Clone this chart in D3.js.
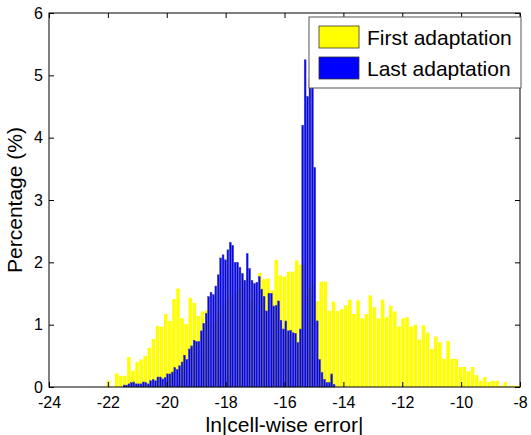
<!DOCTYPE html>
<html>
<head>
<meta charset="utf-8">
<script src="https://cdn.jsdelivr.net/npm/d3@7"></script>
<style>
  body { margin: 0; background: #fff; }
  svg { font-family: "Liberation Sans", Arial, Helvetica, sans-serif; }
</style>
</head>
<body>
<svg id="chart" width="531" height="435"></svg>
<script>
// histogram data (percent per bin)
var xTicks = [-24, -22, -20, -18, -16, -14, -12, -10, -8];
var yTicks = [0, 1, 2, 3, 4, 5, 6];

// first adaptation: bins start at -22.05, width 0.139
var firstStart = -22.05, firstBin = 0.139;
var firstVals = [
  0.10, 0, 0.22, 0.18, 0.18, 0.48, 0.26, 0.40, 0.44, 0.50,
  0.63, 0.77, 0.98, 0.97, 1.17, 1.06, 1.41, 1.58, 1.10, 1.01,
  1.43, 1.35, 1.14, 1.21, 1.23, 1.04, 1.06, 1.20, 1.33, 1.37,
  1.48, 1.52, 1.60, 1.72, 1.73, 1.40, 1.53, 1.83, 1.73, 1.74,
  1.55, 2.04, 1.79, 1.77, 1.85, 1.85, 2.03, 1.96, 1.98, 1.57,
  1.66, 1.38, 1.69, 1.69, 1.22, 1.37, 1.22, 1.25, 1.31, 1.40,
  1.17, 1.39, 1.10, 1.17, 1.47, 1.28, 1.10, 1.40, 1.12, 1.30,
  1.21, 0.97, 1.10, 1.12, 0.97, 1.00, 0.76, 0.99, 0.87, 0.61,
  0.81, 0.72, 0.45, 0.74, 0.45, 0.45, 0.32, 0.32, 0.25, 0.32,
  0.19, 0.10, 0.16, 0.08, 0.10, 0.10, 0.02, 0.08, 0.02, 0.02,
  0.02
];

// last adaptation: bins start at -21.49, width 0.082
var lastStart = -21.49, lastBin = 0.082;
var lastVals = [
  0.03, 0.03, 0.05, 0.07, 0.08, 0.05, 0.05, 0.05, 0.08, 0.07,
  0.05, 0.10, 0.12, 0.10, 0.16, 0.16, 0.13, 0.15, 0.21, 0.21,
  0.24, 0.31, 0.28, 0.34, 0.40, 0.51, 0.44, 0.61, 0.66, 0.75,
  0.73, 0.73, 0.90, 1.02, 1.18, 1.45, 1.52, 1.48, 1.62, 1.80,
  2.07, 2.12, 2.04, 2.20, 2.32, 2.27, 2.00, 2.00, 1.92, 1.82,
  1.71, 2.14, 1.90, 1.71, 1.66, 1.68, 1.77, 1.57, 1.45, 1.22,
  1.50, 1.50, 1.30, 1.31, 1.38, 1.07, 0.93, 1.06, 0.90, 0.91,
  0.87, 0.86, 0.71, 0.93, 4.20, 5.25, 4.66, 4.95, 4.95, 3.52,
  1.06, 0.44, 0.23, 0.12, 0.07, 0.07, 0.21, 0.04
];

var legendNames = ["First adaptation", "Last adaptation"];
var legendColors = ["#ffff00", "#0000ff"];

// plot box (window.top is read-only, so no "top" global here)
var plotL = 49, plotR = 520, plotT = 13, plotB = 387;

var svg = d3.select("#chart");

var x = d3.scaleLinear().domain([-24, -8]).range([plotL, plotR]);
var y = d3.scaleLinear().domain([0, 6]).range([plotB, plotT]);

// BARS
function drawBars(vals, start, bin, fill, stroke, cls) {
  svg.append("g").attr("class", cls)
    .selectAll("rect")
    .data(vals.map(function(v, i) { return { v: v, x0: start + i * bin }; })
                .filter(function(d) { return d.v > 0; }))
    .enter().append("rect")
    .attr("x", function(d) { return x(d.x0) + 0.3; })
    .attr("width", function(d) { return x(d.x0 + bin) - x(d.x0) - 0.6; })
    .attr("y", function(d) { return y(d.v); })
    .attr("height", function(d) { return y(0) - y(d.v); })
    .attr("fill", fill)
    .attr("stroke", stroke)
    .attr("stroke-width", stroke === "none" ? 0 : 0.5);
}

drawBars(firstVals, firstStart, firstBin, "#ffff00", "none", "first");
drawBars(lastVals, lastStart, lastBin, "#0000ff", "#4040a8", "last");

// AXES (ticks inside, box on)
var gx = svg.append("g")
  .attr("transform", "translate(0," + plotB + ")")
  .call(d3.axisBottom(x).tickValues(xTicks).tickSize(-5).tickPadding(10)
        .tickFormat(d3.format("d")));
var gxt = svg.append("g")
  .attr("transform", "translate(0," + plotT + ")")
  .call(d3.axisTop(x).tickValues(xTicks).tickSize(-5).tickFormat(""));
var gy = svg.append("g")
  .attr("transform", "translate(" + plotL + ",0)")
  .call(d3.axisLeft(y).tickValues(yTicks).tickSize(-5).tickPadding(6)
        .tickFormat(d3.format("d")));
var gyr = svg.append("g")
  .attr("transform", "translate(" + plotR + ",0)")
  .call(d3.axisRight(y).tickValues(yTicks).tickSize(-5).tickFormat(""));

[gx, gxt, gy, gyr].forEach(function(g) {
  g.select(".domain").remove();
  g.selectAll("line").attr("stroke", "#000");
  g.selectAll("text").attr("font-size", 16).attr("fill", "#000")
    .style("font-family", "'Liberation Sans', Arial, sans-serif");
});
gx.selectAll("text").text(function(d) { return d < 0 ? "-" + Math.abs(d) : d; });

svg.append("rect")
  .attr("x", plotL).attr("y", plotT)
  .attr("width", plotR - plotL).attr("height", plotB - plotT)
  .attr("fill", "none").attr("stroke", "#000").attr("stroke-width", 1);

// LABELS
svg.append("text")
  .attr("x", (plotL + plotR) / 2)
  .attr("y", 432)
  .attr("text-anchor", "middle")
  .attr("font-size", 21)
  .text("ln|cell-wise error|");

svg.append("text")
  .attr("transform", "translate(22," + (plotT + plotB) / 2 + ") rotate(-90)")
  .attr("text-anchor", "middle")
  .attr("font-size", 21)
  .text("Percentage (%)");

// LEGEND
var lg = svg.append("g").attr("transform", "translate(309,17)");
lg.append("rect")
  .attr("width", 212).attr("height", 71)
  .attr("fill", "#fff").attr("stroke", "#555").attr("stroke-width", 1);

var item = lg.selectAll(".item")
  .data(legendNames)
  .enter().append("g")
  .attr("class", "item")
  .attr("transform", function(d, i) { return "translate(10," + (9 + i * 31) + ")"; });

item.append("rect")
  .attr("width", 40).attr("height", 22)
  .attr("fill", function(d, i) { return legendColors[i]; })
  .attr("stroke", "#333").attr("stroke-width", 0.8);

item.append("text")
  .attr("x", 48).attr("y", 19)
  .attr("font-size", 21)
  .text(function(d) { return d; });
</script>
</body>
</html>
